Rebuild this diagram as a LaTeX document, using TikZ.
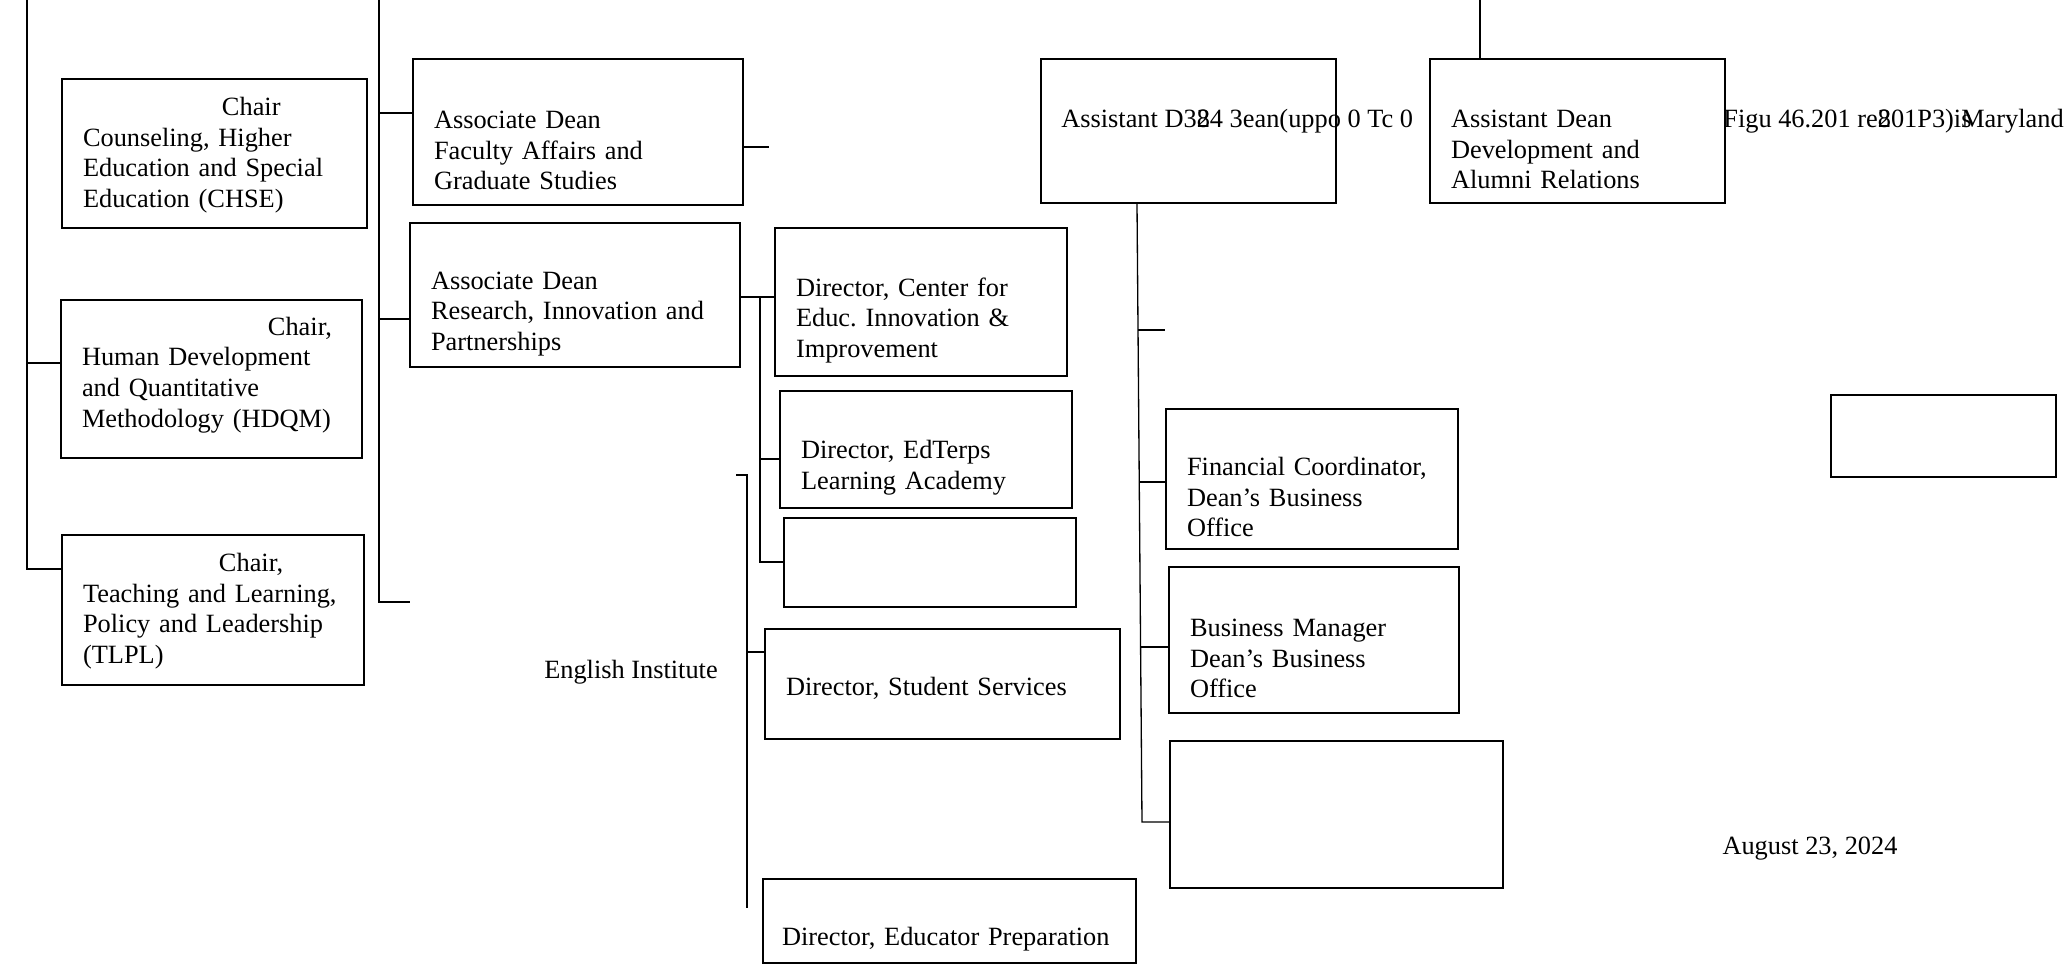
\documentclass[tikz,border=0pt]{standalone}
\usepackage{fontspec}
\setmainfont{Liberation Serif}
\usepackage{tikz}
\frenchspacing

\begin{document}
\begin{tikzpicture}[
        x=0.02cm, y=-0.02cm,
        unit/.style={
            rectangle,
            draw,
            line width=0.85pt,
            inner xsep=0.42cm,
            inner ysep=0pt,
            align=left,
            font=\fontsize{15}{17.4}\selectfont
        },
        lowtext/.style={
            execute at begin node={\rule{0pt}{#1}}
        },
        lowtext/.default=1.1cm,
        hightext/.style={
            execute at end node={\rule[-#1]{0pt}{0pt}}
        },
        txt/.style={
            inner sep=0pt,
            font=\fontsize{15}{17.4}\selectfont
        },
        link/.style={
            line width=0.75pt
        }
    ]
    \useasboundingbox (0,0) rectangle (2070,964);

    % Department chairs
    \node[unit, lowtext=0.44cm, text width=5.26cm, minimum height=2.98cm] (chse) at (214.5,153.5)
        {\hspace*{2.78cm}Chair\\Counseling, Higher\\Education and Special\\Education (CHSE)};
    \node[unit, hightext=0.28cm, text width=5.18cm, minimum height=3.16cm] (hdqm) at (211.5,379)
        {\hspace*{3.72cm}Chair,\\Human Development\\and Quantitative\\Methodology (HDQM)};
    \node[unit, lowtext=0.41cm, text width=5.20cm, minimum height=3.00cm] (tlpl) at (213,610)
        {\hspace*{2.72cm}Chair,\\Teaching and Learning,\\Policy and Leadership\\(TLPL)};

    % Associate deans
    \node[unit, lowtext, text width=5.76cm, minimum height=2.92cm] (fa) at (578,132)
        {Associate Dean\\Faculty Affairs and\\Graduate Studies};
    \node[unit, lowtext, text width=5.76cm, minimum height=2.88cm] (rip) at (575,295)
        {Associate Dean\\Research, Innovation and\\Partnerships};

    % Directors
    \node[unit, lowtext, text width=5.00cm, minimum height=2.96cm] (ceii) at (921,302)
        {Director, Center for\\Educ. Innovation \&\\Improvement};
    \node[unit, lowtext, text width=5.00cm, minimum height=2.34cm] (edterps) at (926,449.5)
        {Director, EdTerps\\Learning Academy};
    \node[unit, minimum width=5.84cm, minimum height=1.78cm] (blank1) at (930,562.5) {};
    \node[txt] (ei) at (631,672) {English Institute};
    \node[unit, lowtext=0.56cm, text width=6.26cm, minimum height=2.20cm] (stuserv) at (942.5,684)
        {Director, Student Services};
    \node[unit, lowtext, inner xsep=0.38cm, text width=6.70cm, minimum height=1.68cm] (edprep) at (949.5,921)
        {Director, Educator Preparation};

    % Assistant deans
    \node[unit, minimum width=5.90cm, minimum height=2.88cm] (asstd) at (1188.5,131) {};
    \node[txt, anchor=base west] (asstd-t) at (1061,127) {Assistant D3\rlap{8}24 3ean(uppo 0 Tc 0};
    \node[unit, lowtext, text width=5.06cm, minimum height=2.88cm] (dev) at (1577.5,131)
        {Assistant Dean\\Development and\\Alumni Relations};
    \node[txt, anchor=base west] (dev-t) at (1723,127) {Figu 46.201 re\rlap{8}201P3)i\rlap{s}Maryland};

    % Business office
    \node[unit, lowtext, text width=5.00cm, minimum height=2.80cm] (finco) at (1312,479)
        {Financial Coordinator,\\Dean’s Business\\Office};
    \node[unit, lowtext, text width=4.96cm, minimum height=2.92cm] (busmgr) at (1314,640)
        {Business Manager\\Dean’s Business\\Office};
    \node[unit, minimum width=6.66cm, minimum height=2.94cm] (blank2) at (1336.5,814.5) {};
    \node[unit, minimum width=4.50cm, minimum height=1.64cm] (blank3) at (1943.5,436) {};

    \node[txt] (date) at (1810,849) {August 23, 2024};

    % Spine points
    \coordinate (chair-top) at (27,0);
    \coordinate (chair-mid) at (27,363);
    \coordinate (chair-bot) at (27,569);
    \coordinate (assoc-top) at (379,0);
    \coordinate (assoc-a) at (379,113);
    \coordinate (assoc-b) at (379,319);
    \coordinate (assoc-bot) at (379,602);
    \coordinate (assoc-end) at (410,602);
    \coordinate (fa-stub) at (769,147);
    \coordinate (dir-a) at (760,297);
    \coordinate (dir-b) at (760,459);
    \coordinate (dir-c) at (760,562);
    \coordinate (ei-tick) at (736,475);
    \coordinate (ei-top) at (747,475);
    \coordinate (ei-b) at (747,652);
    \coordinate (ei-bot) at (747,908);
    \coordinate (bo-x) at (1137,0);
    \coordinate (bo-a) at (1138,330);
    \coordinate (bo-stub) at (1165,330);
    \coordinate (bo-b) at (1139.5,482);
    \coordinate (bo-c) at (1141,647);
    \coordinate (bo-bot) at (1142,822);
    \coordinate (dev-top) at (1480,0);

    % Lines
    \draw[link] (chair-top) -- (chair-bot) -- (tlpl.west |- chair-bot);
    \draw[link] (chair-mid) -- (hdqm.west |- chair-mid);

    \draw[link] (assoc-top) -- (assoc-bot) -- (assoc-end);
    \draw[link] (assoc-a) -- (fa.west |- assoc-a);
    \draw[link] (assoc-b) -- (rip.west |- assoc-b);
    \draw[link] (fa.east |- fa-stub) -- (fa-stub);

    \draw[link] (rip.east |- dir-a) -- (ceii.west |- dir-a);
    \draw[link] (dir-a) -- (dir-c) -- (blank1.west |- dir-c);
    \draw[link] (dir-b) -- (edterps.west |- dir-b);

    \draw[link] (ei-tick) -- (ei-top) -- (ei-bot);
    \draw[link] (ei-b) -- (stuserv.west |- ei-b);

    \draw[link] (asstd.south -| bo-x) -- (bo-bot) -- (blank2.west |- bo-bot);
    \draw[link] (bo-a) -- (bo-stub);
    \draw[link] (bo-b) -- (finco.west |- bo-b);
    \draw[link] (bo-c) -- (busmgr.west |- bo-c);

    \draw[link] (dev-top) -- (dev.north -| dev-top);

\end{tikzpicture}
\end{document}
